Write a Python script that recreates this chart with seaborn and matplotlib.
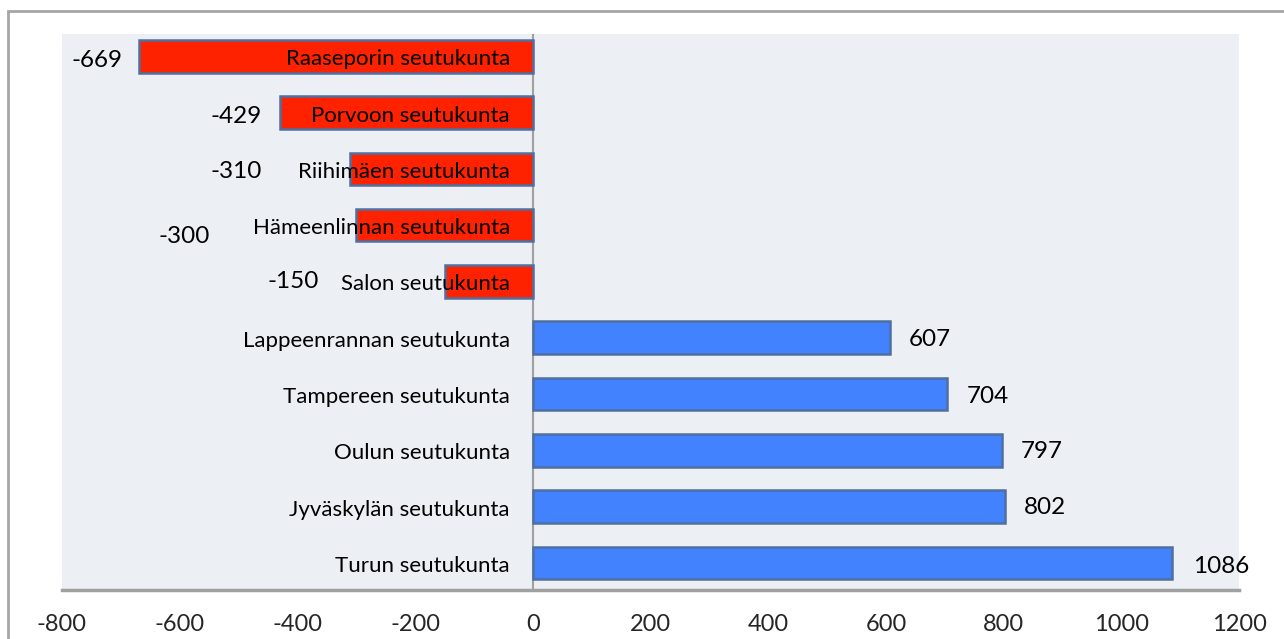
import numpy as np
import pandas as pd
import seaborn as sns
import matplotlib.pyplot as plt
from matplotlib.patches import Rectangle

# --------------------------- DATA ---------------------------
regions = [
    'Raaseporin seutukunta', 'Porvoon seutukunta', 'Riihimäen seutukunta',
    'Hämeenlinnan seutukunta', 'Salon seutukunta', 'Lappeenrannan seutukunta',
    'Tampereen seutukunta', 'Oulun seutukunta', 'Jyväskylän seutukunta',
    'Turun seutukunta'
]
values = [-669, -429, -310, -300, -150, 607, 704, 797, 802, 1086]
x_ticks = [-800, -600, -400, -200, 0, 200, 400, 600, 800, 1000, 1200]

# value label nudges (pixels), the original labels were dragged by hand
label_dx = [-17, -19, -88, -146, -126, 19, 20, 19, 19, 21]
label_dy = [-4, -4, -3, -11, 0, -2, -2, -1, -1, -4]

# --------------------------- STYLE ---------------------------
red = '#FF2200'
blue = '#4282FF'
edge = '#4F6FA0'
bg = '#ECEFF4'
grey = '#A0A0A0'

sns.set_style('white')
plt.rcParams['font.family'] = ['Lato', 'DejaVu Sans']

df = pd.DataFrame({'region': regions, 'value': values})
palette = {r: (red if v < 0 else blue) for r, v in zip(regions, values)}

fig = plt.figure(figsize=(12.84, 6.39), dpi=100)
W, H = 1284, 639
ax = fig.add_axes([62 / W, 1 - 590 / H, (1239 - 62) / W, (590 - 33.7) / H])
ax.set_facecolor(bg)

sns.barplot(data=df, x='value', y='region', hue='region', palette=palette,
            legend=False, orient='h', width=0.58, edgecolor=edge,
            linewidth=1.8, saturation=1, ax=ax, zorder=3)

ax.set_xlim(-800, 1200)
ax.set_ylim(9.48, -0.40)
ax.axvline(0, color=grey, lw=1.5, zorder=2)

for s in ['top', 'right', 'left']:
    ax.spines[s].set_visible(False)
ax.spines['bottom'].set_color(grey)
ax.spines['bottom'].set_linewidth(2.5)

ax.set_xticks(x_ticks)
ax.set_xticklabels([str(t) for t in x_ticks], fontsize=17)
ax.tick_params(axis='x', length=0, pad=17)
ax.set_yticks([])
ax.set_xlabel('')
ax.set_ylabel('')

# category names sit just left of zero
for i, name in enumerate(regions):
    ax.annotate(name, (0, i), xytext=(-23, -3), textcoords='offset pixels',
                ha='right', va='center', fontsize=16, color='black', zorder=5)

# value labels
for i, v in enumerate(values):
    ax.annotate(str(v), (v, i), xytext=(label_dx[i], label_dy[i]),
                textcoords='offset pixels', ha='right' if v < 0 else 'left',
                va='center', fontsize=17.5, color='black', zorder=5,
                annotation_clip=False)

# outer chart border
fig.patches.append(Rectangle((8 / W, -0.1), 1.2, (H - 11) / H + 0.1,
                             transform=fig.transFigure, fill=False,
                             edgecolor='#A6A6A6', lw=2))

plt.savefig('out.png', dpi=100)
plt.close()
